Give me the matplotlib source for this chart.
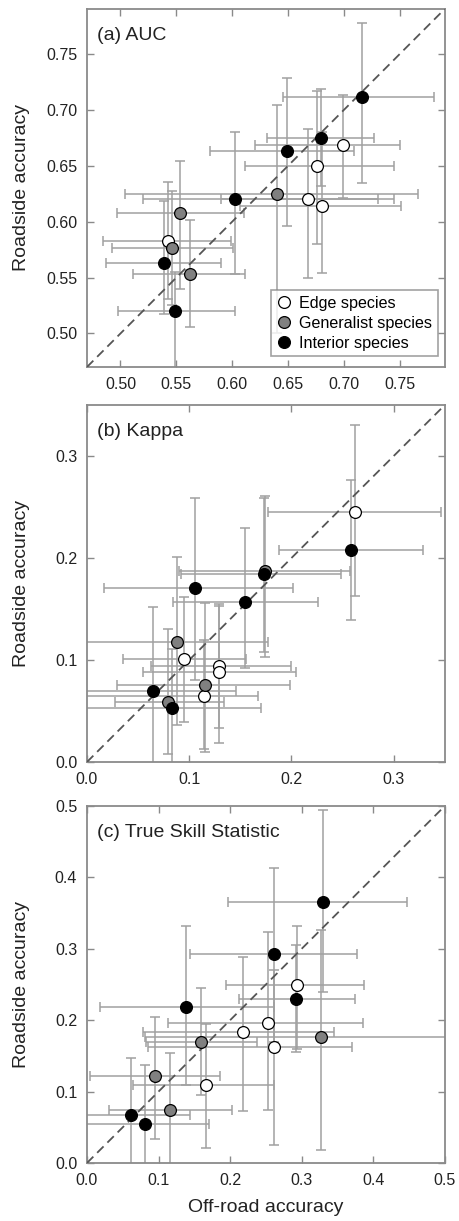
import numpy as np
import matplotlib.pyplot as plt

plt.rcParams['font.family'] = ['Liberation Sans', 'DejaVu Sans']

# E = edge, G = generalist, I = interior species
group = ['E'] * 5 + ['G'] * 4 + ['I'] * 6

# (a) AUC
auc_off = [0.5425, 0.668, 0.676, 0.680, 0.699, 0.553, 0.5465, 0.562, 0.640,
           0.539, 0.5486, 0.602, 0.649, 0.679, 0.716]
auc_road = [0.583, 0.620, 0.650, 0.614, 0.668, 0.6075, 0.576, 0.553, 0.625,
            0.563, 0.520, 0.620, 0.663, 0.675, 0.711]
auc_off_lo = [0.484, 0.590, 0.611, 0.607, 0.620, 0.497, 0.492, 0.511, 0.504,
              0.487, 0.498, 0.520, 0.580, 0.631, 0.645]
auc_off_hi = [0.599, 0.745, 0.745, 0.751, 0.750, 0.610, 0.601, 0.611, 0.766,
              0.590, 0.602, 0.730, 0.709, 0.727, 0.780]
auc_road_lo = [0.531, 0.550, 0.580, 0.554, 0.621, 0.540, 0.525, 0.506, 0.500,
               0.517, 0.460, 0.553, 0.596, 0.632, 0.634]
auc_road_hi = [0.635, 0.683, 0.717, 0.680, 0.713, 0.654, 0.627, 0.601, 0.704,
               0.618, 0.555, 0.680, 0.728, 0.718, 0.777]

# (b) Kappa
kap_off = [0.262, 0.0954, 0.129, 0.129, 0.114, 0.174, 0.088, 0.1156, 0.079,
           0.2585, 0.1727, 0.106, 0.155, 0.065, 0.083]
kap_road = [0.245, 0.101, 0.0945, 0.088, 0.0645, 0.187, 0.118, 0.076, 0.0587,
            0.2076, 0.184, 0.1705, 0.157, 0.070, 0.053]
kap_off_lo = [0.177, 0.035, 0.063, 0.055, -0.01, 0.090, -0.01, 0.029, 0.027,
              0.188, 0.092, 0.017, 0.084, -0.01, -0.01]
kap_off_hi = [0.346, 0.156, 0.200, 0.204, 0.167, 0.257, 0.177, 0.199, 0.134,
              0.329, 0.248, 0.202, 0.2255, 0.146, 0.170]
kap_road_lo = [0.163, 0.039, 0.033, 0.019, 0.013, 0.103, 0.036, 0.010, 0.0075,
               0.139, 0.1075, 0.080, 0.092, -0.01, -0.01]
kap_road_hi = [0.330, 0.162, 0.155, 0.153, 0.120, 0.261, 0.201, 0.156, 0.130,
               0.276, 0.259, 0.2585, 0.229, 0.152, 0.111]

# (c) True Skill Statistic
tss_off = [0.2937, 0.253, 0.218, 0.2618, 0.166, 0.3274, 0.160, 0.0947, 0.1157,
           0.3297, 0.261, 0.2927, 0.1378, 0.062, 0.0806]
tss_road = [0.2496, 0.1966, 0.183, 0.162, 0.109, 0.177, 0.169, 0.1218, 0.074,
            0.3657, 0.2927, 0.2295, 0.218, 0.067, 0.054]
tss_off_lo = [0.194, 0.113, 0.078, 0.085, 0.064, 0.0806, 0.083, 0.0044, 0.0315,
              0.1976, 0.144, 0.213, 0.018, -0.01, -0.01]
tss_off_hi = [0.387, 0.386, 0.345, 0.370, 0.261, 0.550, 0.2375, 0.186, 0.2024,
              0.447, 0.377, 0.374, 0.261, 0.144, 0.1705]
tss_road_lo = [0.160, 0.074, 0.073, 0.025, 0.0216, 0.0188, 0.095, 0.033, -0.01,
               0.239, 0.170, 0.156, 0.109, -0.01, -0.01]
tss_road_hi = [0.3315, 0.323, 0.289, 0.270, 0.195, 0.327, 0.245, 0.204, 0.1536,
               0.495, 0.4135, 0.3058, 0.3315, 0.1466, 0.137]

face = {'E': 'white', 'G': '#808080', 'I': 'black'}
names = {'E': 'Edge species', 'G': 'Generalist species', 'I': 'Interior species'}

panels = [
    ('(a) AUC', auc_off, auc_road, auc_off_lo, auc_off_hi, auc_road_lo, auc_road_hi,
     (0.47, 0.79), np.arange(0.50, 0.751, 0.05), '{:.2f}'),
    ('(b) Kappa', kap_off, kap_road, kap_off_lo, kap_off_hi, kap_road_lo, kap_road_hi,
     (0.0, 0.35), np.arange(0.0, 0.31, 0.1), '{:.1f}'),
    ('(c) True Skill Statistic', tss_off, tss_road, tss_off_lo, tss_off_hi, tss_road_lo, tss_road_hi,
     (0.0, 0.5), np.arange(0.0, 0.51, 0.1), '{:.1f}'),
]

fig = plt.figure(figsize=(4.6, 12.21), dpi=100)
boxes = [(0.6994, 0.2933), (0.3759, 0.2924), (0.0475, 0.2924)]
spine_col = '#8a8a8a'
text_col = '#222222'

for i, (title, xo, yr, xlo, xhi, ylo, yhi, lim, ticks, fmt) in enumerate(panels):
    ax = fig.add_axes([0.189, boxes[i][0], 0.778, boxes[i][1]])
    xo, yr = np.array(xo), np.array(yr)
    xerr = [xo - np.array(xlo), np.array(xhi) - xo]
    yerr = [yr - np.array(ylo), np.array(yhi) - yr]
    ax.errorbar(xo, yr, xerr=xerr, yerr=yerr, fmt='none', ecolor='#a0a0a0',
                elinewidth=1.1, capsize=3.6, capthick=1.1, zorder=2)
    ax.plot(lim, lim, ls=(0, (5, 3)), color='#555555', lw=1.3, zorder=3)
    for g in ['E', 'G', 'I']:
        idx = [k for k, gg in enumerate(group) if gg == g]
        ax.plot(xo[idx], yr[idx], 'o', ms=8.5, mfc=face[g], mec='black',
                mew=0.9, zorder=4, label=names[g], ls='none')
    ax.set_xlim(lim)
    ax.set_ylim(lim)
    ax.set_xticks(ticks)
    ax.set_yticks(ticks)
    ax.set_xticklabels([fmt.format(t) for t in ticks])
    ax.set_yticklabels([fmt.format(t) for t in ticks])
    ax.tick_params(direction='in', top=True, right=True, length=5, width=1,
                   color=spine_col, labelsize=11.5, labelcolor=text_col, pad=7)
    for s in ax.spines.values():
        s.set_color(spine_col)
        s.set_linewidth(1.3)
    ax.text(0.027, 0.925, title, transform=ax.transAxes, fontsize=14,
            color=text_col, va='center', ha='left')
    ax.set_ylabel('Roadside accuracy', fontsize=14, color=text_col)
    ax.yaxis.set_label_coords(-0.16, 0.5)
    if i == 0:
        leg = ax.legend(loc='lower right', bbox_to_anchor=(0.98, 0.03),
                        borderaxespad=0, fontsize=11.6, frameon=True, fancybox=False,
                        handlelength=0.9, handletextpad=0.5, labelspacing=0.3,
                        borderpad=0.35)
        leg.get_frame().set_edgecolor(spine_col)
        leg.get_frame().set_linewidth(1.2)
        leg.set_zorder(10)
    if i == 2:
        ax.set_xlabel('Off-road accuracy', fontsize=14, color=text_col, labelpad=8)

fig.savefig('out.png', dpi=100)
